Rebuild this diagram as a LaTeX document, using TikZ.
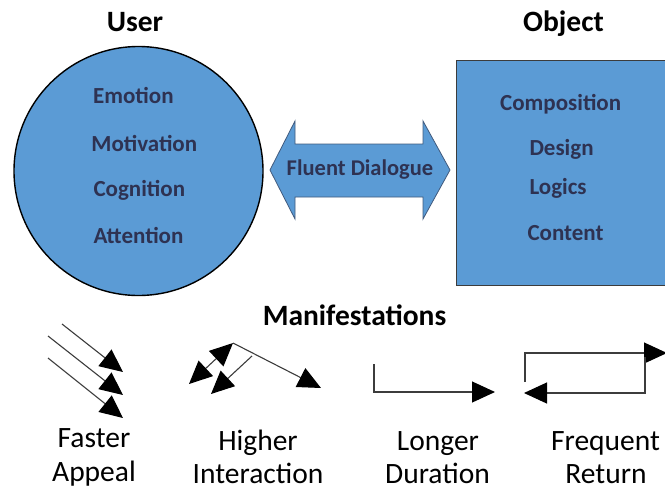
\documentclass[tikz,border=0pt]{standalone}
\usepackage{fontspec}
\setmainfont{Carlito}
\usetikzlibrary{arrows.meta}
\definecolor{fillblue}{RGB}{91,155,213}
\definecolor{navy}{RGB}{46,50,82}
\definecolor{linegray}{RGB}{60,60,60}
\definecolor{edgeblue}{RGB}{65,90,125}
\begin{document}
\begin{tikzpicture}[x=1pt,y=-1pt,
  inner/.style={font=\fontsize{23}{27}\selectfont\bfseries, text=navy, inner sep=0pt, anchor=base west},
  ttl/.style={font=\fontsize{29.5}{33}\selectfont\bfseries, text=black, inner sep=0pt, anchor=base},
  lbl/.style={font=\fontsize{29.5}{34}\selectfont, text=black, inner sep=0pt, anchor=base},
  tri/.style={-{Triangle[length=23pt,width=21pt,color=black]}, draw=linegray, line width=1.1pt},
  tritwo/.style={{Triangle[length=23pt,width=21pt,color=black]}-{Triangle[length=23pt,width=21pt,color=black]}, draw=linegray, line width=1.1pt},
]
\useasboundingbox (0,0) rectangle (665,491);

% User circle
\node[circle, draw=black, line width=1.4pt, fill=fillblue, minimum size=249pt, inner sep=0pt] (user) at (138.5,171) {};
\node[inner] (emo) at (93,103.3) {Emotion};
\node[inner] (mot) at (91.2,151) {Motivation};
\node[inner] (cog) at (93.3,196) {Cognition};
\node[inner] (att) at (93.3,243) {Attention};

% Object rectangle
\node[rectangle, draw=linegray, line width=1.4pt, fill=fillblue, minimum width=220pt, minimum height=225pt, anchor=north west, inner sep=0pt] (obj) at (456,60) {};
\node[inner] (comp) at (500,110) {Composition};
\node[inner] (des) at (529.3,155) {Design};
\node[inner] (log) at (529.3,194) {Logics};
\node[inner] (cont) at (527.3,240) {Content};

% Titles
\node[ttl] (tuser) at (135,31) {User};
\node[ttl] (tobj) at (563.5,31) {Object};
\node[ttl] (tman) at (354.5,325) {Manifestations};

% Fluent dialogue double arrow
\draw[draw=edgeblue, line width=0.8pt, fill=fillblue]
  (270,170) -- (295,121) -- (295,144) -- (423,144) -- (423,121) -- (450,170)
  -- (423,219) -- (423,197) -- (295,197) -- (295,219) -- cycle;
\node[inner, anchor=center] (fd) at (360,170) {\fontsize{22.5}{26}\selectfont Fluent Dialogue};

% Faster appeal arrows
\coordinate (fa1s) at (62,324); \coordinate (fa1e) at (123,372);
\coordinate (fa2s) at (48,336); \coordinate (fa2e) at (123,395);
\coordinate (fa3s) at (48,358); \coordinate (fa3e) at (123,418);
\draw[tri] (fa1s) -- (fa1e);
\draw[tri] (fa2s) -- (fa2e);
\draw[tri] (fa3s) -- (fa3e);

% Higher interaction arrows
\coordinate (hv) at (233,343);
\coordinate (hl) at (189,384);
\coordinate (hr) at (321,388);
\coordinate (hm) at (252,356);
\coordinate (hb) at (211,394);
\draw[tritwo] (hl) -- (hv);
\draw[tri] (hv) -- (hr);
\draw[tri] (hm) -- (hb);

% Longer duration arrow
\coordinate (ld1) at (374,364); \coordinate (ld2) at (374,392); \coordinate (ld3) at (495,392);
\draw[tri] (ld1) -- (ld2) -- (ld3);

% Frequent return arrows
\coordinate (fr1) at (525,382); \coordinate (fr2) at (525,353); \coordinate (fr3) at (667,353);
\coordinate (fr4) at (645,357); \coordinate (fr5) at (645,393); \coordinate (fr6) at (524,393);
\draw[tri] (fr1) -- (fr2) -- (fr3);
\draw[tri] (fr4) -- (fr5) -- (fr6);

% Labels
\node[lbl] (l1a) at (94,447) {Faster};
\node[lbl] (l1b) at (94,481) {Appeal};
\node[lbl] (l2a) at (258,450) {Higher};
\node[lbl] (l2b) at (258,483) {Interaction};
\node[lbl] (l3a) at (438,450) {Longer};
\node[lbl] (l3b) at (437.5,483) {Duration};
\node[lbl] (l4a) at (605.5,450) {Frequent};
\node[lbl] (l4b) at (606,483) {Return};
\end{tikzpicture}
\end{document}
